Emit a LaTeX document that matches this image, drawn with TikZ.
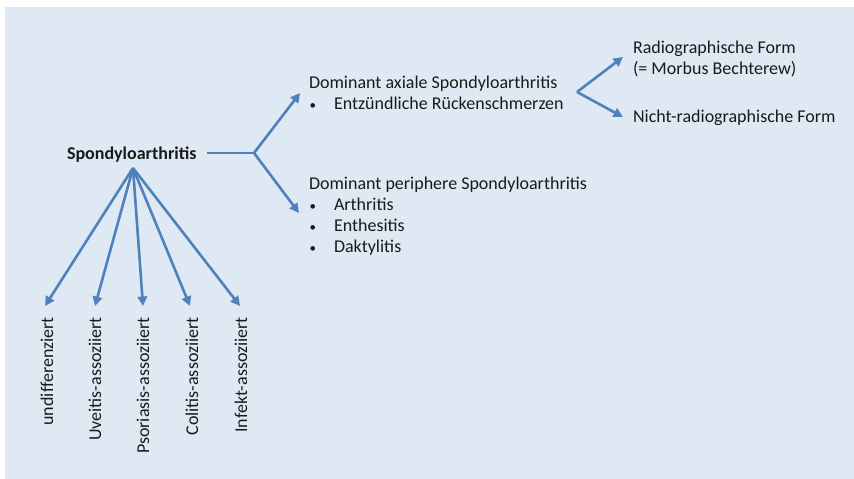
\documentclass[tikz,border=0pt]{standalone}
\usepackage{fontspec}
\setmainfont{Carlito}
\usetikzlibrary{arrows.meta}
\definecolor{bgblue}{HTML}{DFE9F4}
\definecolor{arrblue}{HTML}{4F81BD}
\definecolor{txt}{HTML}{1A1A1A}
\newcommand{\bul}{\makebox[25pt][l]{\hspace{0.5pt}\fontsize{13}{13}\selectfont•}}
\tikzset{
  conn/.style={draw=arrblue, line width=2.6pt},
  arr/.style={conn, -{Triangle[length=9.5pt,width=9.5pt]}},
  lbl/.style={inner sep=0pt, outer sep=0pt, text=txt, font=\fontsize{18}{21}\selectfont},
  vlbl/.style={lbl, rotate=90, anchor=east},
}
\begin{document}
\begin{tikzpicture}[x=1pt,y=-1pt]
\useasboundingbox (0,0) rectangle (854,479);
\fill[white] (0,0) rectangle (854,479);
\fill[bgblue] (5,7) rectangle (854,479);

\node[lbl, anchor=base west, font=\fontsize{18}{21}\selectfont\bfseries] (sp) at (67,159) {Spondyloarthritis};
\coordinate (spr) at (207,153);
\coordinate (b1) at (254,153);
\coordinate (fan) at (133,168);

\node[lbl, anchor=base west] (ax) at (309,88) {Dominant axiale Spondyloarthritis};
\node[lbl, anchor=base west] (axb) at (309,109) {\bul Entzündliche Rückenschmerzen};
\coordinate (axtip) at (300,93);

\node[lbl, anchor=base west] (pe) at (309,189) {Dominant periphere Spondyloarthritis};
\node[lbl, anchor=base west] (pe1) at (309,210) {\bul Arthritis};
\node[lbl, anchor=base west] (pe2) at (309,231) {\bul Enthesitis};
\node[lbl, anchor=base west] (pe3) at (309,252) {\bul Daktylitis};
\coordinate (petip) at (299,213);

\coordinate (b2) at (577,92);
\node[lbl, anchor=base west] (ra) at (633,53) {Radiographische Form};
\node[lbl, anchor=base west] (ra2) at (633,74) {(= Morbus Bechterew)};
\node[lbl, anchor=base west] (nr) at (633,122) {Nicht-radiographische Form};
\coordinate (ratip) at (623,57);
\coordinate (nrtip) at (623,117);

\draw[conn] (spr) -- (b1);
\draw[arr] (b1) -- (axtip);
\draw[arr] (b1) -- (petip);
\draw[arr] (b2) -- (ratip);
\draw[arr] (b2) -- (nrtip);

\coordinate (t1) at (45,306);
\coordinate (t2) at (95,306);
\coordinate (t3) at (143,306);
\coordinate (t4) at (190,306);
\coordinate (t5) at (240,306);
\foreach \i in {1,...,5} \draw[arr] (fan) -- (t\i);

\node[vlbl] (v1) at (47,317) {undifferenziert};
\node[vlbl] (v2) at (95,317) {Uveitis-assoziiert};
\node[vlbl] (v3) at (143,317) {Psoriasis-assoziiert};
\node[vlbl] (v4) at (192,317) {Colitis-assoziiert};
\node[vlbl] (v5) at (241,317) {Infekt-assoziiert};
\end{tikzpicture}
\end{document}
